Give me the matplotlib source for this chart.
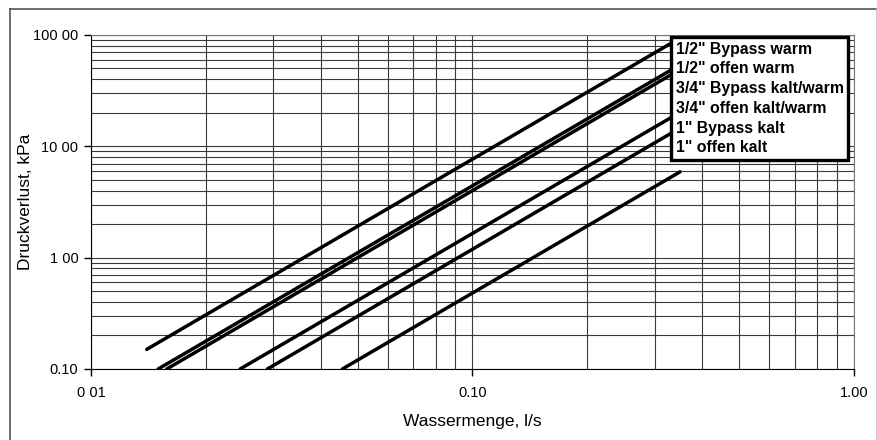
import matplotlib.pyplot as plt
from matplotlib.lines import Line2D

plt.rcParams['font.family'] = ['Liberation Sans', 'DejaVu Sans']

# Druckverlust-Kennlinien (Anfangs- und Endpunkt, log-log Geraden)
labels = ['1/2" Bypass warm', '1/2" offen warm', '3/4" Bypass kalt/warm',
          '3/4" offen kalt/warm', '1" Bypass kalt', '1" offen kalt']
flow_start = [0.014, 0.015, 0.0158, 0.0246, 0.029, 0.0456]
flow_end = [0.35, 0.35, 0.35, 0.35, 0.35, 0.35]
dp_start = [0.15, 0.10, 0.10, 0.10, 0.10, 0.10]
dp_end = [94.0, 54.0, 49.0, 20.2, 14.6, 5.9]

xticks = [0.01, 0.1, 1.0]
xticklabels = ['0 01', '0.10', '1.00']
yticks = [0.1, 1, 10, 100]
yticklabels = ['0.10', '1 00', '10 00', '100 00']

fig = plt.figure(figsize=(8.78, 4.40), dpi=100)
ax = fig.add_axes([0.1036, 0.1614, 0.8691, 0.7591])

# outer chart frame
fig.add_artist(Line2D([0.0114, 0.0114], [-0.01, 0.98], transform=fig.transFigure, color='#555555', lw=1.2))
fig.add_artist(Line2D([0.0114, 0.9989], [0.98, 0.98], transform=fig.transFigure, color='#555555', lw=1.2))
fig.add_artist(Line2D([0.9989, 0.9989], [-0.01, 0.98], transform=fig.transFigure, color='#bbbbbb', lw=1.2))

ax.set_xscale('log')
ax.set_yscale('log')
ax.set_xlim(0.01, 1.0)
ax.set_ylim(0.1, 100)

handles = []
for i in range(len(labels)):
    ln, = ax.plot([flow_start[i], flow_end[i]], [dp_start[i], dp_end[i]],
                  color='black', lw=2.5, solid_capstyle='round', label=labels[i], zorder=3)
    handles.append(ln)

ax.grid(True, which='both', color='#3a3a3a', lw=0.8)
ax.set_axisbelow(True)
ax.minorticks_on()
ax.tick_params(which='minor', length=0)
ax.tick_params(which='major', length=5, width=1, labelsize=10.5, direction='out')
ax.set_xticks(xticks)
ax.set_xticklabels(xticklabels)
ax.set_yticks(yticks)
ax.set_yticklabels(yticklabels)
ax.tick_params(axis='x', pad=7)
ax.tick_params(axis='y', pad=4)
for s in ['top', 'right']:
    ax.spines[s].set_color('#777777')
for s in ['left', 'bottom']:
    ax.spines[s].set_color('black')

ax.set_xlabel('Wassermenge, l/s', fontsize=12.5, labelpad=10)
ax.set_ylabel('Druckverlust, kPa', fontsize=12.5, labelpad=0)

leg = ax.legend(handles=handles, loc='upper left', bbox_to_anchor=(0.760, 0.994),
                handlelength=0, handletextpad=0, borderpad=0.3, borderaxespad=0,
                labelspacing=0.3, fancybox=False, framealpha=1, edgecolor='black',
                prop={'weight': 'bold', 'size': 11.4})
leg.get_frame().set_linewidth(2.4)
for h in leg.legend_handles:
    h.set_visible(False)

fig.savefig('out.png', dpi=100)
